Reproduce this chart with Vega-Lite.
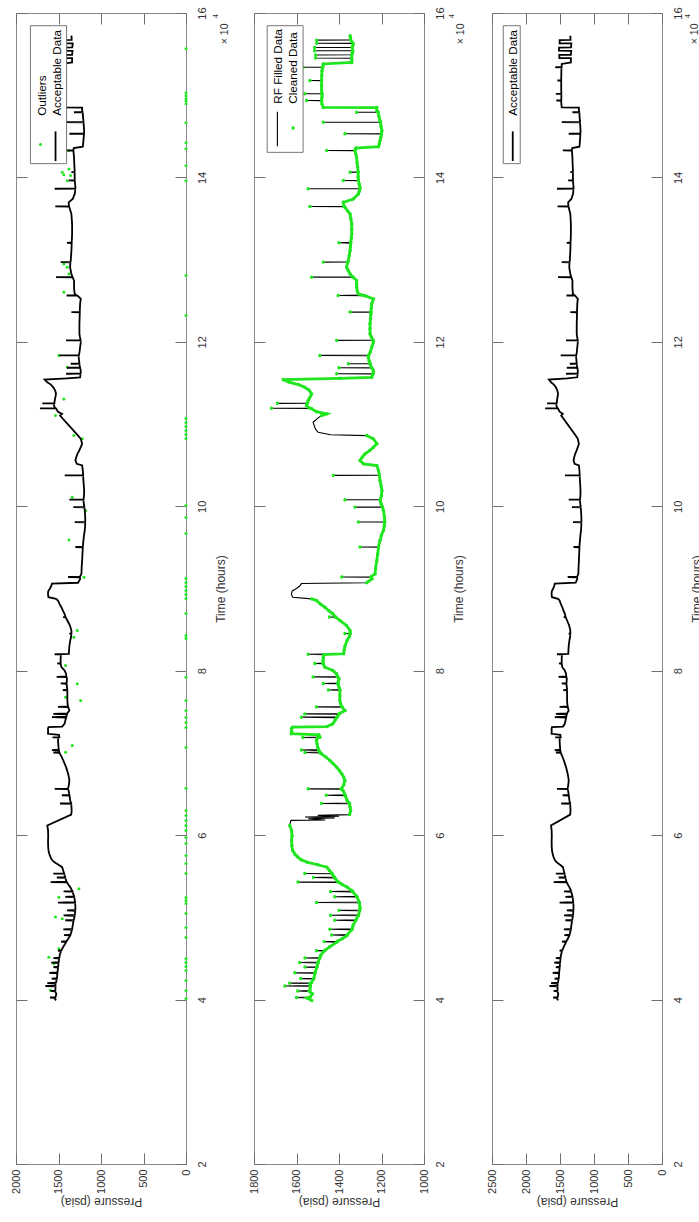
{
"$schema":"https://vega.github.io/schema/vega-lite/v6.json",
"padding":{"left":9,"top":6,"right":0,"bottom":0},
"background":"white",
"config":{"font":"Liberation Sans","view":{"stroke":"#8a8a8a","strokeWidth":1},
"axis":{"domain":false,"grid":false,"offset":-11,"tickSize":11,"tickColor":"#707070","tickWidth":1,"labelFlush":false,"labelOverlap":false,"labelBound":false,"labelFontSize":11,"labelColor":"#333333","titleFontSize":12,"titleFontWeight":"normal","titleColor":"#333333"}},
"datasets":{
"series":[
{"t":39900,"p":1528,"s":"c","k":1},{"t":40200,"p":1550,"s":"c","k":1},{"t":40250,"p":1600,"s":"p","k":1},{"t":40300,"p":1535,"s":"c","k":1},{"t":40700,"p":1525,"s":"c","k":1},{"t":41000,"p":1540,"s":"c","k":1},{"t":41050,"p":1594,"s":"p","k":1},{"t":41100,"p":1537,"s":"c","k":1},{"t":41600,"p":1535,"s":"c","k":1},{"t":41650,"p":1655,"s":"p","k":1},{"t":41700,"p":1535,"s":"c","k":1},{"t":41950,"p":1537,"s":"c","k":1},{"t":42000,"p":1632,"s":"p","k":1},{"t":42050,"p":1530,"s":"c","k":1},{"t":42500,"p":1520,"s":"c","k":1},{"t":42550,"p":1580,"s":"p","k":1},{"t":42600,"p":1518,"s":"c","k":1},{"t":43200,"p":1513,"s":"c","k":1},{"t":43250,"p":1608,"s":"p","k":1},{"t":43300,"p":1512,"s":"c","k":1},{"t":43900,"p":1505,"s":"c","k":1},{"t":43950,"p":1560,"s":"p","k":1},{"t":44000,"p":1503,"s":"c","k":1},{"t":44450,"p":1500,"s":"c","k":1},{"t":44500,"p":1585,"s":"p","k":1},{"t":44550,"p":1498,"s":"c","k":1},{"t":45000,"p":1492,"s":"c","k":1},{"t":45050,"p":1560,"s":"p","k":1},{"t":45100,"p":1490,"s":"c","k":1},{"t":45400,"p":1486,"s":"c","k":1},{"t":45900,"p":1470,"s":"c","k":1},{"t":45950,"p":1506,"s":"p","k":1},{"t":46000,"p":1465,"s":"c","k":1},{"t":46400,"p":1445,"s":"c","k":1},{"t":46990,"p":1410,"s":"c","k":1},{"t":47050,"p":1470,"s":"p","k":1},{"t":47100,"p":1408,"s":"c","k":1},{"t":47400,"p":1385,"s":"c","k":1},{"t":47800,"p":1362,"s":"c","k":1},{"t":47850,"p":1435,"s":"p","k":1},{"t":47900,"p":1360,"s":"c","k":1},{"t":48500,"p":1340,"s":"c","k":1},{"t":48550,"p":1443,"s":"p","k":1},{"t":48600,"p":1338,"s":"c","k":1},{"t":49000,"p":1334,"s":"c","k":1},{"t":49600,"p":1322,"s":"c","k":1},{"t":49650,"p":1420,"s":"p","k":1},{"t":49700,"p":1320,"s":"c","k":1},{"t":50190,"p":1310,"s":"c","k":1},{"t":50250,"p":1440,"s":"p","k":1},{"t":50300,"p":1308,"s":"c","k":1},{"t":50800,"p":1303,"s":"c","k":1},{"t":50850,"p":1400,"s":"p","k":1},{"t":50900,"p":1302,"s":"c","k":1},{"t":51240,"p":1301,"s":"c","k":1},{"t":51770,"p":1305,"s":"c","k":1},{"t":51800,"p":1506,"s":"p","k":1},{"t":51850,"p":1305,"s":"c","k":1},{"t":52460,"p":1315,"s":"c","k":1},{"t":52500,"p":1420,"s":"p","k":1},{"t":52550,"p":1316,"s":"c","k":1},{"t":53100,"p":1335,"s":"c","k":1},{"t":53150,"p":1440,"s":"p","k":1},{"t":53200,"p":1337,"s":"c","k":1},{"t":53680,"p":1362,"s":"c","k":1},{"t":54000,"p":1385,"s":"c","k":1},{"t":54250,"p":1400,"s":"c","k":1},{"t":54290,"p":1593,"s":"p","k":1},{"t":54330,"p":1405,"s":"c","k":1},{"t":54800,"p":1420,"s":"c","k":1},{"t":54850,"p":1520,"s":"p","k":1},{"t":54900,"p":1422,"s":"c","k":1},{"t":55300,"p":1433,"s":"c","k":1},{"t":55330,"p":1561,"s":"p","k":1},{"t":55360,"p":1434,"s":"c","k":1},{"t":55700,"p":1445,"s":"c","k":1},{"t":56110,"p":1457,"s":"c","k":1},{"t":56400,"p":1500,"s":"c","k":1},{"t":56720,"p":1551,"s":"c","k":1},{"t":57000,"p":1578,"s":"c","k":1},{"t":57330,"p":1594,"s":"c","k":1},{"t":57700,"p":1608,"s":"c","k":1},{"t":58140,"p":1618,"s":"c","k":1},{"t":58700,"p":1622,"s":"c","k":1},{"t":59360,"p":1623,"s":"c","k":1},{"t":59900,"p":1621,"s":"c","k":1},{"t":60570,"p":1623,"s":"c","k":1},{"t":61180,"p":1632,"s":"c","k":1},
{"t":61400,"p":1630,"s":"r","k":0},{"t":61650,"p":1628,"s":"r","k":0},{"t":61800,"p":1626,"s":"r","k":0},{"t":61850,"p":1465,"s":"r","k":0},{"t":62000,"p":1545,"s":"r","k":0},{"t":62100,"p":1420,"s":"r","k":0},{"t":62200,"p":1560,"s":"r","k":0},{"t":62300,"p":1400,"s":"r","k":0},{"t":62400,"p":1500,"s":"r","k":0},
{"t":62500,"p":1350,"s":"c","k":2},{"t":63000,"p":1345,"s":"c","k":2},{"t":63400,"p":1348,"s":"c","k":2},{"t":63810,"p":1350,"s":"c","k":2},{"t":63850,"p":1482,"s":"p","k":2},{"t":63900,"p":1352,"s":"c","k":2},{"t":64220,"p":1362,"s":"c","k":2},{"t":64800,"p":1370,"s":"c","k":2},{"t":64850,"p":1460,"s":"p","k":2},{"t":64900,"p":1372,"s":"c","k":2},{"t":65430,"p":1381,"s":"c","k":2},{"t":65600,"p":1390,"s":"c","k":2},{"t":65630,"p":1545,"s":"p","k":2},{"t":65660,"p":1388,"s":"c","k":2},{"t":66100,"p":1378,"s":"c","k":2},{"t":66650,"p":1372,"s":"c","k":2},{"t":67050,"p":1378,"s":"c","k":2},{"t":67460,"p":1387,"s":"c","k":2},{"t":67850,"p":1398,"s":"c","k":2},{"t":68270,"p":1411,"s":"c","k":2},{"t":68700,"p":1428,"s":"c","k":2},{"t":69080,"p":1443,"s":"c","k":2},{"t":69500,"p":1462,"s":"c","k":2},{"t":69890,"p":1482,"s":"c","k":2},{"t":70000,"p":1488,"s":"c","k":2},{"t":70050,"p":1560,"s":"p","k":2},{"t":70100,"p":1490,"s":"c","k":2},{"t":70300,"p":1495,"s":"c","k":2},{"t":70350,"p":1577,"s":"p","k":2},{"t":70400,"p":1497,"s":"c","k":2},{"t":70700,"p":1500,"s":"c","k":2},{"t":71100,"p":1503,"s":"c","k":2},{"t":71510,"p":1506,"s":"c","k":2},{"t":71850,"p":1500,"s":"c","k":2},{"t":71880,"p":1570,"s":"p","k":2},{"t":71920,"p":1490,"s":"c","k":2},{"t":72200,"p":1495,"s":"c","k":2},{"t":72330,"p":1624,"s":"c","k":2},{"t":72600,"p":1622,"s":"c","k":2},{"t":72940,"p":1624,"s":"c","k":2},{"t":73130,"p":1618,"s":"c","k":2},{"t":73200,"p":1457,"s":"c","k":2},{"t":73540,"p":1429,"s":"c","k":2},{"t":74000,"p":1418,"s":"c","k":2},{"t":74300,"p":1410,"s":"c","k":2},{"t":74350,"p":1577,"s":"p","k":2},{"t":74400,"p":1408,"s":"c","k":2},{"t":74700,"p":1400,"s":"c","k":2},{"t":74750,"p":1561,"s":"p","k":2},{"t":74800,"p":1398,"s":"c","k":2},{"t":75160,"p":1372,"s":"c","k":2},{"t":75560,"p":1385,"s":"c","k":2},{"t":75600,"p":1506,"s":"p","k":2},{"t":75650,"p":1388,"s":"c","k":2},{"t":76000,"p":1393,"s":"c","k":2},{"t":76380,"p":1396,"s":"c","k":2},{"t":77000,"p":1396,"s":"c","k":2},{"t":77600,"p":1396,"s":"c","k":2},{"t":77650,"p":1450,"s":"p","k":2},{"t":77700,"p":1396,"s":"c","k":2},{"t":78000,"p":1400,"s":"c","k":2},{"t":78410,"p":1405,"s":"c","k":2},{"t":78450,"p":1474,"s":"p","k":2},{"t":78500,"p":1405,"s":"c","k":2},{"t":79020,"p":1400,"s":"c","k":2},{"t":79220,"p":1405,"s":"c","k":2},{"t":79250,"p":1522,"s":"p","k":2},{"t":79300,"p":1408,"s":"c","k":2},{"t":79620,"p":1411,"s":"c","k":2},{"t":80030,"p":1429,"s":"c","k":2},{"t":80430,"p":1466,"s":"c","k":2},{"t":80840,"p":1475,"s":"c","k":2},{"t":80880,"p":1514,"s":"p","k":2},{"t":80920,"p":1475,"s":"c","k":2},{"t":81240,"p":1475,"s":"c","k":2},{"t":81600,"p":1474,"s":"c","k":2},{"t":81950,"p":1472,"s":"c","k":2},{"t":82000,"p":1545,"s":"p","k":2},{"t":82060,"p":1378,"s":"c","k":2},{"t":82500,"p":1376,"s":"c","k":2},{"t":83000,"p":1372,"s":"c","k":2},{"t":83680,"p":1362,"s":"c","k":2},{"t":84100,"p":1352,"s":"c","k":2},{"t":84490,"p":1348,"s":"c","k":2},{"t":84520,"p":1372,"s":"p","k":2},{"t":84550,"p":1348,"s":"c","k":2},{"t":84890,"p":1348,"s":"c","k":2},{"t":85500,"p":1365,"s":"c","k":2},{"t":86110,"p":1396,"s":"c","k":2},{"t":86500,"p":1415,"s":"c","k":2},{"t":86530,"p":1445,"s":"p","k":2},{"t":86560,"p":1418,"s":"c","k":2},{"t":86920,"p":1429,"s":"c","k":2},{"t":87300,"p":1448,"s":"c","k":2},{"t":87720,"p":1466,"s":"c","k":2},{"t":88100,"p":1487,"s":"c","k":2},{"t":88540,"p":1506,"s":"c","k":2},{"t":88740,"p":1529,"s":"c","k":2},
{"t":88940,"p":1618,"s":"a","k":0},{"t":89300,"p":1624,"s":"a","k":0},{"t":89700,"p":1620,"s":"a","k":0},{"t":90000,"p":1600,"s":"a","k":0},{"t":90300,"p":1585,"s":"a","k":0},{"t":90600,"p":1577,"s":"a","k":0},
{"t":90700,"p":1270,"s":"c","k":3},{"t":91170,"p":1245,"s":"c","k":3},{"t":91370,"p":1250,"s":"c","k":3},{"t":91400,"p":1387,"s":"p","k":3},{"t":91430,"p":1248,"s":"c","k":3},{"t":91780,"p":1230,"s":"c","k":3},{"t":92500,"p":1228,"s":"c","k":3},{"t":93400,"p":1222,"s":"c","k":3},{"t":94200,"p":1218,"s":"c","k":3},{"t":95020,"p":1214,"s":"c","k":3},{"t":95050,"p":1301,"s":"p","k":3},{"t":95080,"p":1214,"s":"c","k":3},{"t":95830,"p":1207,"s":"c","k":3},{"t":96500,"p":1200,"s":"c","k":3},{"t":97050,"p":1191,"s":"c","k":3},{"t":97600,"p":1187,"s":"c","k":3},{"t":98060,"p":1185,"s":"c","k":3},{"t":98080,"p":1309,"s":"p","k":3},{"t":98110,"p":1185,"s":"c","k":3},{"t":98700,"p":1186,"s":"c","k":3},{"t":99480,"p":1191,"s":"c","k":3},{"t":99880,"p":1195,"s":"c","k":3},{"t":99900,"p":1325,"s":"p","k":3},{"t":99930,"p":1196,"s":"c","k":3},{"t":100300,"p":1202,"s":"c","k":3},{"t":100780,"p":1207,"s":"c","k":3},{"t":100800,"p":1372,"s":"p","k":3},{"t":100830,"p":1205,"s":"c","k":3},{"t":101300,"p":1200,"s":"c","k":3},{"t":101910,"p":1198,"s":"c","k":3},{"t":102500,"p":1202,"s":"c","k":3},{"t":103130,"p":1207,"s":"c","k":3},{"t":103740,"p":1210,"s":"c","k":3},{"t":103760,"p":1427,"s":"p","k":3},{"t":103790,"p":1210,"s":"c","k":3},{"t":104350,"p":1214,"s":"c","k":3},{"t":104960,"p":1222,"s":"c","k":3},{"t":105160,"p":1285,"s":"c","k":3},{"t":105570,"p":1301,"s":"c","k":3},{"t":106000,"p":1290,"s":"c","k":3},{"t":106380,"p":1277,"s":"c","k":3},{"t":106800,"p":1255,"s":"c","k":3},{"t":107190,"p":1238,"s":"c","k":3},{"t":107600,"p":1222,"s":"c","k":3},{"t":108200,"p":1238,"s":"c","k":3},{"t":108600,"p":1270,"s":"c","k":3},
{"t":108700,"p":1440,"s":"r","k":0},{"t":109000,"p":1498,"s":"r","k":0},{"t":109300,"p":1508,"s":"r","k":0},{"t":109610,"p":1514,"s":"r","k":0},{"t":110220,"p":1522,"s":"r","k":0},{"t":110750,"p":1498,"s":"r","k":0},
{"t":111030,"p":1482,"s":"c","k":4},{"t":111240,"p":1458,"s":"c","k":4},{"t":111500,"p":1506,"s":"c","k":4},{"t":111900,"p":1530,"s":"c","k":4},{"t":111920,"p":1718,"s":"p","k":4},{"t":111950,"p":1540,"s":"c","k":4},{"t":112250,"p":1553,"s":"c","k":4},{"t":112500,"p":1550,"s":"c","k":4},{"t":112520,"p":1690,"s":"p","k":4},{"t":112550,"p":1548,"s":"c","k":4},{"t":112860,"p":1545,"s":"c","k":4},{"t":113200,"p":1538,"s":"c","k":4},{"t":113670,"p":1529,"s":"c","k":4},{"t":114100,"p":1540,"s":"c","k":4},{"t":114470,"p":1561,"s":"c","k":4},{"t":114800,"p":1590,"s":"c","k":4},{"t":115080,"p":1632,"s":"c","k":4},{"t":115410,"p":1663,"s":"c","k":4},{"t":115570,"p":1396,"s":"c","k":4},{"t":115690,"p":1246,"s":"c","k":4},{"t":116100,"p":1240,"s":"c","k":4},{"t":116120,"p":1411,"s":"p","k":4},{"t":116150,"p":1240,"s":"c","k":4},{"t":116500,"p":1238,"s":"c","k":4},{"t":116830,"p":1245,"s":"c","k":4},{"t":116850,"p":1400,"s":"p","k":4},{"t":116880,"p":1248,"s":"c","k":4},{"t":117320,"p":1254,"s":"c","k":4},{"t":117340,"p":1356,"s":"p","k":4},{"t":117370,"p":1254,"s":"c","k":4},{"t":117700,"p":1258,"s":"c","k":4},{"t":118120,"p":1262,"s":"c","k":4},{"t":118330,"p":1262,"s":"c","k":4},{"t":118350,"p":1490,"s":"p","k":4},{"t":118380,"p":1260,"s":"c","k":4},{"t":118800,"p":1252,"s":"c","k":4},{"t":119340,"p":1246,"s":"c","k":4},{"t":119950,"p":1238,"s":"c","k":4},{"t":120160,"p":1240,"s":"c","k":4},{"t":120180,"p":1411,"s":"p","k":4},{"t":120210,"p":1240,"s":"c","k":4},{"t":120600,"p":1248,"s":"c","k":4},{"t":120970,"p":1254,"s":"c","k":4},{"t":121600,"p":1254,"s":"c","k":4},{"t":122190,"p":1254,"s":"c","k":4},{"t":122800,"p":1252,"s":"c","k":4},{"t":123400,"p":1250,"s":"c","k":4},{"t":123600,"p":1250,"s":"c","k":4},{"t":123620,"p":1348,"s":"p","k":4},{"t":123650,"p":1250,"s":"c","k":4},{"t":124100,"p":1248,"s":"c","k":4},{"t":124620,"p":1246,"s":"c","k":4},{"t":125220,"p":1238,"s":"c","k":4},{"t":125620,"p":1277,"s":"c","k":4},{"t":125640,"p":1404,"s":"p","k":4},{"t":125680,"p":1290,"s":"c","k":4},{"t":125830,"p":1309,"s":"c","k":4},{"t":126200,"p":1314,"s":"c","k":4},{"t":126640,"p":1317,"s":"c","k":4},{"t":127050,"p":1317,"s":"c","k":4},{"t":127450,"p":1317,"s":"c","k":4},{"t":127850,"p":1333,"s":"c","k":4},{"t":127870,"p":1529,"s":"p","k":4},{"t":127900,"p":1335,"s":"c","k":4},{"t":128260,"p":1348,"s":"c","k":4},{"t":128650,"p":1356,"s":"c","k":4},{"t":129070,"p":1364,"s":"c","k":4},{"t":129680,"p":1360,"s":"c","k":4},{"t":129700,"p":1474,"s":"p","k":4},{"t":129730,"p":1358,"s":"c","k":4},{"t":129880,"p":1356,"s":"c","k":4},{"t":130500,"p":1352,"s":"c","k":4},{"t":131100,"p":1348,"s":"c","k":4},{"t":131600,"p":1346,"s":"c","k":4},{"t":132000,"p":1345,"s":"c","k":4},{"t":132050,"p":1400,"s":"p","k":4},{"t":132100,"p":1345,"s":"c","k":4},{"t":132600,"p":1342,"s":"c","k":4},{"t":133130,"p":1340,"s":"c","k":4},{"t":133700,"p":1340,"s":"c","k":4},{"t":134340,"p":1340,"s":"c","k":4},{"t":134950,"p":1344,"s":"c","k":4},{"t":135560,"p":1348,"s":"c","k":4},{"t":135950,"p":1360,"s":"c","k":4},{"t":136370,"p":1372,"s":"c","k":4},{"t":136450,"p":1375,"s":"c","k":4},{"t":136470,"p":1537,"s":"p","k":4},{"t":136500,"p":1377,"s":"c","k":4},{"t":136970,"p":1380,"s":"c","k":4},{"t":137380,"p":1333,"s":"c","k":4},{"t":137990,"p":1309,"s":"c","k":4},{"t":138300,"p":1305,"s":"c","k":4},{"t":138600,"p":1303,"s":"c","k":4},{"t":138620,"p":1545,"s":"p","k":4},{"t":138650,"p":1302,"s":"c","k":4},{"t":138790,"p":1301,"s":"c","k":4},{"t":139200,"p":1305,"s":"c","k":4},{"t":139610,"p":1309,"s":"c","k":4},{"t":139630,"p":1380,"s":"p","k":4},{"t":139660,"p":1309,"s":"c","k":4},{"t":140100,"p":1310,"s":"c","k":4},{"t":140620,"p":1310,"s":"c","k":4},{"t":140640,"p":1348,"s":"p","k":4},{"t":140670,"p":1310,"s":"c","k":4},{"t":141230,"p":1312,"s":"c","k":4},{"t":141800,"p":1315,"s":"c","k":4},{"t":142440,"p":1317,"s":"c","k":4},{"t":142850,"p":1321,"s":"c","k":4},{"t":143260,"p":1325,"s":"c","k":4},{"t":143280,"p":1458,"s":"p","k":4},{"t":143310,"p":1325,"s":"c","k":4},{"t":143580,"p":1320,"s":"c","k":4},{"t":143740,"p":1214,"s":"c","k":4},{"t":144100,"p":1210,"s":"c","k":4},{"t":144470,"p":1207,"s":"c","k":4},{"t":144900,"p":1203,"s":"c","k":4},{"t":145290,"p":1200,"s":"c","k":4},{"t":145310,"p":1372,"s":"p","k":4},{"t":145340,"p":1200,"s":"c","k":4},{"t":145690,"p":1198,"s":"c","k":4},{"t":146200,"p":1202,"s":"c","k":4},{"t":146700,"p":1205,"s":"c","k":4},{"t":146720,"p":1474,"s":"p","k":4},{"t":146750,"p":1205,"s":"c","k":4},{"t":146900,"p":1207,"s":"c","k":4},{"t":147400,"p":1212,"s":"c","k":4},{"t":147910,"p":1215,"s":"c","k":4},{"t":147930,"p":1317,"s":"p","k":4},{"t":147960,"p":1217,"s":"c","k":4},{"t":148120,"p":1222,"s":"c","k":4},{"t":148500,"p":1222,"s":"c","k":4},{"t":148520,"p":1474,"s":"c","k":4},{"t":148900,"p":1480,"s":"c","k":4},{"t":149340,"p":1482,"s":"c","k":4},{"t":149360,"p":1553,"s":"p","k":4},{"t":149390,"p":1482,"s":"c","k":4},{"t":149750,"p":1480,"s":"c","k":4},{"t":150150,"p":1480,"s":"c","k":4},{"t":150170,"p":1561,"s":"p","k":4},{"t":150200,"p":1480,"s":"c","k":4},{"t":150550,"p":1482,"s":"c","k":4},{"t":151150,"p":1482,"s":"c","k":4},{"t":151770,"p":1482,"s":"c","k":4},{"t":151790,"p":1537,"s":"p","k":4},{"t":151820,"p":1482,"s":"c","k":4},{"t":152400,"p":1481,"s":"c","k":4},{"t":152980,"p":1480,"s":"c","k":4},{"t":153380,"p":1478,"s":"c","k":4},{"t":153400,"p":1569,"s":"p","k":4},{"t":153430,"p":1476,"s":"c","k":4},{"t":153800,"p":1474,"s":"c","k":4},{"t":153990,"p":1340,"s":"c","k":4},{"t":154250,"p":1340,"s":"c","k":4},{"t":154500,"p":1340,"s":"c","k":4},{"t":154520,"p":1510,"s":"p","k":4},{"t":154900,"p":1510,"s":"p","k":4},{"t":154920,"p":1340,"s":"c","k":4},{"t":155150,"p":1337,"s":"c","k":4},{"t":155400,"p":1335,"s":"c","k":4},{"t":155420,"p":1515,"s":"p","k":4},{"t":155800,"p":1515,"s":"p","k":4},{"t":155820,"p":1338,"s":"c","k":4},{"t":156050,"p":1335,"s":"c","k":4},{"t":156300,"p":1333,"s":"c","k":4},{"t":156320,"p":1505,"s":"p","k":4},{"t":156700,"p":1505,"s":"p","k":4},{"t":156720,"p":1345,"s":"c","k":4},{"t":157000,"p":1346,"s":"c","k":4},{"t":157240,"p":1348,"s":"c","k":4}
],
"out":[
{"t":155660,"p":0},{"t":150310,"p":0},{"t":149940,"p":0},{"t":149580,"p":0},{"t":149340,"p":0},{"t":148970,"p":0},{"t":146660,"p":0},{"t":144230,"p":0},{"t":143500,"p":0},{"t":141430,"p":0},{"t":139610,"p":0},{"t":128060,"p":0},{"t":123200,"p":0},{"t":110680,"p":0},{"t":110190,"p":0},{"t":109700,"p":0},{"t":109210,"p":0},{"t":108730,"p":0},{"t":108240,"p":0},{"t":100100,"p":0},{"t":98640,"p":0},{"t":96690,"p":0},{"t":91220,"p":0},{"t":90740,"p":0},{"t":90250,"p":0},{"t":89760,"p":0},{"t":89280,"p":0},{"t":88790,"p":0},{"t":86970,"p":0},{"t":84290,"p":0},{"t":83930,"p":0},{"t":79190,"p":0},{"t":76390,"p":0},{"t":75170,"p":0},{"t":74320,"p":0},{"t":73710,"p":0},{"t":73100,"p":0},{"t":70670,"p":0},{"t":65690,"p":0},{"t":63010,"p":0},{"t":62400,"p":0},{"t":61790,"p":0},{"t":61180,"p":0},{"t":60570,"p":0},{"t":59720,"p":0},{"t":58990,"p":0},{"t":57530,"p":0},{"t":56560,"p":0},{"t":55340,"p":0},{"t":52420,"p":0},{"t":52060,"p":0},{"t":51690,"p":0},{"t":50480,"p":0},{"t":48780,"p":0},{"t":47560,"p":0},{"t":45000,"p":0},{"t":44520,"p":0},{"t":44030,"p":0},{"t":43550,"p":0},{"t":42330,"p":0},{"t":41110,"p":0},{"t":40140,"p":0},
{"t":140620,"p":1456},{"t":140340,"p":1437},{"t":139610,"p":1397},{"t":140220,"p":1358},{"t":141030,"p":1377},{"t":129480,"p":1437},{"t":129070,"p":1397},{"t":128260,"p":1377},{"t":126030,"p":1437},{"t":118330,"p":1496},{"t":116910,"p":1397},{"t":113060,"p":1437},{"t":111030,"p":1535},{"t":108600,"p":1319},{"t":108200,"p":1220},{"t":101100,"p":1338},{"t":99480,"p":1181},{"t":95900,"p":1377},{"t":143260,"p":1377},{"t":91370,"p":1201},{"t":84890,"p":1279},{"t":84070,"p":1319},{"t":80630,"p":1417},{"t":78410,"p":1279},{"t":76380,"p":1240},{"t":76780,"p":1417},{"t":70900,"p":1338},{"t":70090,"p":1417},{"t":52460,"p":1496},{"t":53480,"p":1260},{"t":50030,"p":1535},{"t":49830,"p":1456},{"t":46180,"p":1496},{"t":45160,"p":1614},{"t":44360,"p":1555},{"t":41120,"p":1594}
]},
"hconcat":[
{"width":170,"height":1151,
"resolve":{"axis":{"x":"independent","y":"independent"}},
"layer":[
{"data":{"name":"out"},"mark":{"type":"circle","size":9,"color":"#1fe61f","opacity":1},
"encoding":{
"x":{"field":"p","type":"quantitative","scale":{"domain":[0,2000],"reverse":true,"nice":false,"zero":false},"axis":{"orient":"bottom","values":[0,500,1000,1500,2000],"format":"d","labelAngle":270,"labelAlign":"right","labelBaseline":"middle","labelPadding":5,"title":"Pressure (psia)","titleAngle":180,"titleBaseline":"bottom","titlePadding":1}},
"y":{"field":"t","type":"quantitative","scale":{"domain":[20000,160000],"nice":false,"zero":false},"axis":{"orient":"right","values":[20000,40000,60000,80000,100000,120000,140000,160000],"labelExpr":"datum.value/10000","labelAngle":270,"labelAlign":"center","labelBaseline":"top","labelPadding":10,"title":"Time (hours)","titleAngle":270,"titleBaseline":"top","titlePadding":8}}}},
{"data":{"name":"series"},"transform":[{"filter":"datum.s!='r'"}],"mark":{"type":"line","color":"#000000","strokeWidth":1.8},
"encoding":{
"x":{"field":"p","type":"quantitative","axis":{"orient":"top","values":[0,500,1000,1500,2000],"labels":false,"title":null}},
"y":{"field":"t","type":"quantitative","axis":{"orient":"left","values":[20000,40000,60000,80000,100000,120000,140000,160000],"labels":false,"title":null}},
"order":{"field":"t","type":"quantitative"}}},
{"data":{"values":[{}]},"mark":{"type":"rect","fill":"white","stroke":"#777777","strokeWidth":1},
"encoding":{"x":{"datum":1830,"type":"quantitative","axis":null},"x2":{"datum":1405},"y":{"datum":158456,"type":"quantitative","axis":null},"y2":{"datum":141675}}},
{"data":{"values":[{}]},"mark":{"type":"text","angle":270,"align":"left","baseline":"middle","fontSize":11.7,"color":"#000000"},
"encoding":{"x":{"datum":1700,"type":"quantitative","axis":null},"y":{"datum":147500,"type":"quantitative","axis":null},"text":{"value":"Outliers"}}},
{"data":{"values":[{}]},"mark":{"type":"text","angle":270,"align":"left","baseline":"middle","fontSize":11.7,"color":"#000000"},
"encoding":{"x":{"datum":1523,"type":"quantitative","axis":null},"y":{"datum":147500,"type":"quantitative","axis":null},"text":{"value":"Acceptable Data"}}},
{"data":{"values":[{}]},"mark":{"type":"circle","size":9,"color":"#1fe61f","opacity":1},
"encoding":{"x":{"datum":1712,"type":"quantitative","axis":null},"y":{"datum":144000,"type":"quantitative","axis":null}}},
{"data":{"values":[{}]},"mark":{"type":"rule","color":"#000000","strokeWidth":1.8},
"encoding":{"x":{"datum":1535,"type":"quantitative","axis":null},"y":{"datum":145600,"type":"quantitative","axis":null},"y2":{"datum":142000}}},
{"data":{"values":[{}]},"mark":{"type":"text","angle":270,"align":"left","baseline":"middle","fontSize":10.5,"color":"#333333"},
"encoding":{"x":{"datum":-455,"type":"quantitative","axis":null},"y":{"datum":156206,"type":"quantitative","axis":null},"text":{"value":"× 10"}}},
{"data":{"values":[{}]},"mark":{"type":"text","angle":270,"align":"left","baseline":"middle","fontSize":7.5,"color":"#333333"},
"encoding":{"x":{"datum":-348,"type":"quantitative","axis":null},"y":{"datum":159368,"type":"quantitative","axis":null},"text":{"value":"4"}}}
]},
{"width":170,"height":1151,
"resolve":{"axis":{"x":"independent","y":"independent"}},
"layer":[
{"data":{"name":"series"},"mark":{"type":"line","color":"#000000","strokeWidth":1.1},
"encoding":{
"x":{"field":"p","type":"quantitative","scale":{"domain":[1000,1800],"reverse":true,"nice":false,"zero":false},"axis":{"orient":"bottom","values":[1000,1200,1400,1600,1800],"format":"d","labelAngle":270,"labelAlign":"right","labelBaseline":"middle","labelPadding":5,"title":"Pressure (psia)","titleAngle":180,"titleBaseline":"bottom","titlePadding":1}},
"y":{"field":"t","type":"quantitative","scale":{"domain":[20000,160000],"nice":false,"zero":false},"axis":{"orient":"right","values":[20000,40000,60000,80000,100000,120000,140000,160000],"labelExpr":"datum.value/10000","labelAngle":270,"labelAlign":"center","labelBaseline":"top","labelPadding":10,"title":"Time (hours)","titleAngle":270,"titleBaseline":"top","titlePadding":8}},
"order":{"field":"t","type":"quantitative"}}},
{"data":{"name":"series"},"transform":[{"filter":"datum.s=='c'"}],"mark":{"type":"line","color":"#1fe61f","strokeWidth":2.8},
"encoding":{
"x":{"field":"p","type":"quantitative","axis":{"orient":"top","values":[1000,1200,1400,1600,1800],"labels":false,"title":null}},
"y":{"field":"t","type":"quantitative","axis":{"orient":"left","values":[20000,40000,60000,80000,100000,120000,140000,160000],"labels":false,"title":null}},
"detail":{"field":"k","type":"nominal"},
"order":{"field":"t","type":"quantitative"}}},
{"data":{"name":"series"},"transform":[{"filter":"datum.s=='c' || datum.s=='p'"}],"mark":{"type":"circle","size":12,"color":"#1fe61f","opacity":1},
"encoding":{"x":{"field":"p","type":"quantitative","axis":null},"y":{"field":"t","type":"quantitative","axis":null}}},
{"data":{"values":[{}]},"mark":{"type":"rect","fill":"white","stroke":"#777777","strokeWidth":1},
"encoding":{"x":{"datum":1738,"type":"quantitative","axis":null},"x2":{"datum":1569},"y":{"datum":158456,"type":"quantitative","axis":null},"y2":{"datum":143050}}},
{"data":{"values":[{}]},"mark":{"type":"text","angle":270,"align":"left","baseline":"middle","fontSize":11.7,"color":"#000000"},
"encoding":{"x":{"datum":1688,"type":"quantitative","axis":null},"y":{"datum":148970,"type":"quantitative","axis":null},"text":{"value":"RF Filled Data"}}},
{"data":{"values":[{}]},"mark":{"type":"text","angle":270,"align":"left","baseline":"middle","fontSize":11.7,"color":"#000000"},
"encoding":{"x":{"datum":1617,"type":"quantitative","axis":null},"y":{"datum":148970,"type":"quantitative","axis":null},"text":{"value":"Cleaned Data"}}},
{"data":{"values":[{}]},"mark":{"type":"rule","color":"#000000","strokeWidth":1.1},
"encoding":{"x":{"datum":1690,"type":"quantitative","axis":null},"y":{"datum":148000,"type":"quantitative","axis":null},"y2":{"datum":143800}}},
{"data":{"values":[{}]},"mark":{"type":"circle","size":12,"color":"#1fe61f","opacity":1},
"encoding":{"x":{"datum":1616,"type":"quantitative","axis":null},"y":{"datum":146000,"type":"quantitative","axis":null}}},
{"data":{"values":[{}]},"mark":{"type":"text","angle":270,"align":"left","baseline":"middle","fontSize":10.5,"color":"#333333"},
"encoding":{"x":{"datum":824,"type":"quantitative","axis":null},"y":{"datum":156206,"type":"quantitative","axis":null},"text":{"value":"× 10"}}},
{"data":{"values":[{}]},"mark":{"type":"text","angle":270,"align":"left","baseline":"middle","fontSize":7.5,"color":"#333333"},
"encoding":{"x":{"datum":866,"type":"quantitative","axis":null},"y":{"datum":159368,"type":"quantitative","axis":null},"text":{"value":"4"}}}
]},
{"width":170,"height":1151,
"resolve":{"axis":{"x":"independent","y":"independent"}},
"layer":[
{"data":{"name":"series"},"transform":[{"filter":"datum.s!='r'"}],"mark":{"type":"line","color":"#000000","strokeWidth":1.8},
"encoding":{
"x":{"field":"p","type":"quantitative","scale":{"domain":[0,2500],"reverse":true,"nice":false,"zero":false},"axis":{"orient":"bottom","values":[0,500,1000,1500,2000,2500],"format":"d","labelAngle":270,"labelAlign":"right","labelBaseline":"middle","labelPadding":5,"title":"Pressure (psia)","titleAngle":180,"titleBaseline":"bottom","titlePadding":1}},
"y":{"field":"t","type":"quantitative","scale":{"domain":[20000,160000],"nice":false,"zero":false},"axis":{"orient":"right","values":[20000,40000,60000,80000,100000,120000,140000,160000],"labelExpr":"datum.value/10000","labelAngle":270,"labelAlign":"center","labelBaseline":"top","labelPadding":10,"title":"Time (hours)","titleAngle":270,"titleBaseline":"top","titlePadding":8}},
"order":{"field":"t","type":"quantitative"}}},
{"data":{"values":[{}]},"mark":{"type":"rect","fill":"white","stroke":"#777777","strokeWidth":1},
"encoding":{"x":{"datum":2335,"type":"quantitative","axis":{"orient":"top","values":[0,500,1000,1500,2000,2500],"labels":false,"title":null}},"x2":{"datum":2085},"y":{"datum":158456,"type":"quantitative","axis":{"orient":"left","values":[20000,40000,60000,80000,100000,120000,140000,160000],"labels":false,"title":null}},"y2":{"datum":141675}}},
{"data":{"values":[{}]},"mark":{"type":"text","angle":270,"align":"left","baseline":"middle","fontSize":11.7,"color":"#000000"},
"encoding":{"x":{"datum":2188,"type":"quantitative","axis":null},"y":{"datum":147500,"type":"quantitative","axis":null},"text":{"value":"Acceptable Data"}}},
{"data":{"values":[{}]},"mark":{"type":"rule","color":"#000000","strokeWidth":1.8},
"encoding":{"x":{"datum":2195,"type":"quantitative","axis":null},"y":{"datum":145600,"type":"quantitative","axis":null},"y2":{"datum":142000}}},
{"data":{"values":[{}]},"mark":{"type":"text","angle":270,"align":"left","baseline":"middle","fontSize":10.5,"color":"#333333"},
"encoding":{"x":{"datum":-485,"type":"quantitative","axis":null},"y":{"datum":156206,"type":"quantitative","axis":null},"text":{"value":"× 10"}}},
{"data":{"values":[{}]},"mark":{"type":"text","angle":270,"align":"left","baseline":"middle","fontSize":7.5,"color":"#333333"},
"encoding":{"x":{"datum":-382,"type":"quantitative","axis":null},"y":{"datum":159368,"type":"quantitative","axis":null},"text":{"value":"4"}}}
]}
],
"spacing":68,
"bounds":"flush"
}
